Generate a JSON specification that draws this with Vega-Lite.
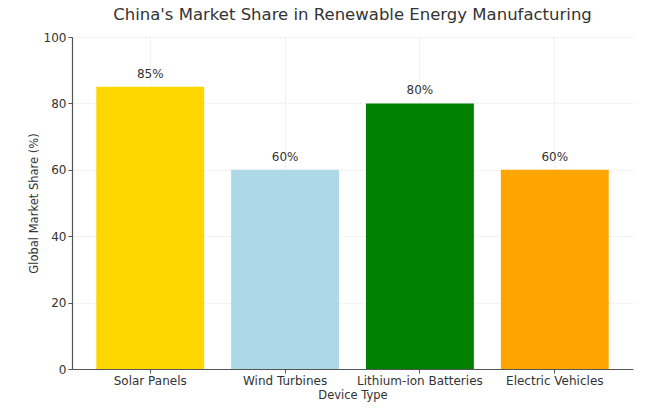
{
  "$schema": "https://vega.github.io/schema/vega-lite/v6.json",
  "width": 561,
  "height": 332,
  "autosize": {"type": "none"},
  "padding": {"left": 72, "top": 37, "right": 17, "bottom": 40},
  "background": "white",
  "title": {
    "text": "China's Market Share in Renewable Energy Manufacturing",
    "font": "DejaVu Sans",
    "fontSize": 16.5,
    "fontWeight": "normal",
    "color": "#333333",
    "anchor": "middle",
    "offset": 8
  },
  "data": {
    "values": [
      {"device": "Solar Panels", "share": 85, "label": "85%"},
      {"device": "Wind Turbines", "share": 60, "label": "60%"},
      {"device": "Lithium-ion Batteries", "share": 80, "label": "80%"},
      {"device": "Electric Vehicles", "share": 60, "label": "60%"}
    ]
  },
  "encoding": {
    "x": {
      "field": "device",
      "type": "nominal",
      "sort": null,
      "title": "Device Type",
      "scale": {"paddingInner": 0.2, "paddingOuter": 0.18},
      "axis": {
        "labelAngle": 0,
        "grid": true,
        "gridDash": [2, 2],
        "gridColor": "#e8e8e8",
        "domainColor": "#555555",
        "tickColor": "#555555",
        "titlePadding": 3
      }
    },
    "y": {
      "field": "share",
      "type": "quantitative",
      "title": "Global Market Share (%)",
      "scale": {"domain": [0, 100]},
      "axis": {
        "values": [0, 20, 40, 60, 80, 100],
        "grid": true,
        "gridDash": [2, 2],
        "gridColor": "#e8e8e8",
        "domainColor": "#555555",
        "tickColor": "#555555",
        "titlePadding": 4
      }
    }
  },
  "layer": [
    {
      "mark": {"type": "bar"},
      "encoding": {
        "color": {
          "field": "device",
          "type": "nominal",
          "sort": null,
          "scale": {
            "domain": ["Solar Panels", "Wind Turbines", "Lithium-ion Batteries", "Electric Vehicles"],
            "range": ["#FFD700", "#ADD8E6", "#008000", "#FFA500"]
          },
          "legend": null
        }
      }
    },
    {
      "mark": {"type": "text", "baseline": "bottom", "dy": -6, "font": "DejaVu Sans", "fontSize": 12, "color": "#333333"},
      "encoding": {"text": {"field": "label"}}
    }
  ],
  "config": {
    "view": {"stroke": null},
    "axis": {
      "labelFont": "DejaVu Sans",
      "titleFont": "DejaVu Sans",
      "labelFontSize": 12,
      "titleFontSize": 11.5,
      "titleFontWeight": "normal",
      "labelColor": "#333333",
      "titleColor": "#333333",
      "tickSize": 4,
      "domainWidth": 1.2
    }
  }
}
